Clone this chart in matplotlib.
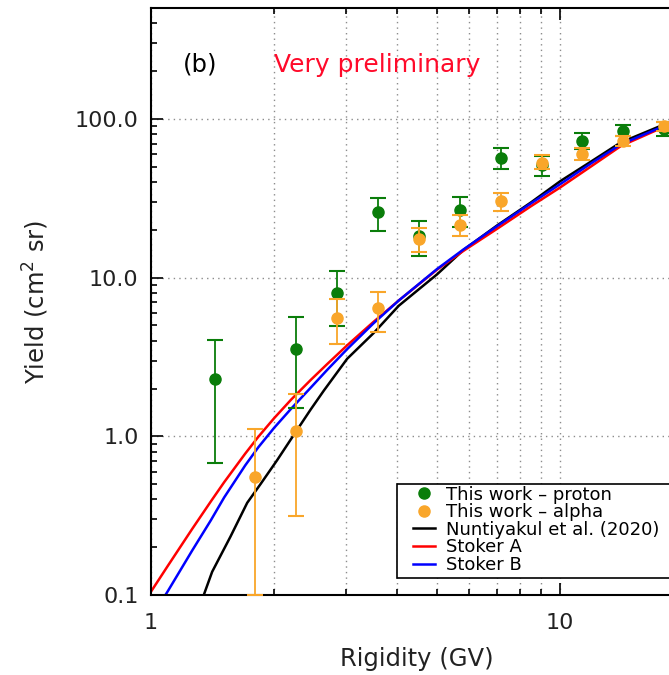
import matplotlib
matplotlib.use("Agg")
import matplotlib.pyplot as plt
from matplotlib.lines import Line2D
from matplotlib.patches import Rectangle
from matplotlib.ticker import FuncFormatter, NullFormatter
import numpy as np

# yield measured per rigidity bin (GV)
proton_x = [1.43, 2.26, 2.85, 3.59, 4.52, 5.69, 7.16, 9.02, 11.35, 14.29, 17.99]
proton_y = [2.3, 3.55, 8.0, 25.8, 18.3, 26.7, 56.5, 51.0, 72.6, 83.9, 86.0]
proton_lo = [0.68, 1.50, 4.95, 19.6, 13.6, 20.7, 48.3, 43.7, 64.8, 77.6, 78.0]
proton_hi = [4.03, 5.62, 11.0, 31.9, 22.7, 32.4, 65.3, 58.0, 81.2, 91.2, 95.0]

alpha_x = [1.80, 2.26, 2.85, 3.59, 4.52, 5.69, 7.16, 9.02, 11.35, 14.29, 17.99]
alpha_y = [0.555, 1.08, 5.6, 6.4, 17.4, 21.6, 30.4, 53.0, 60.4, 72.6, 90.2]
alpha_lo = [0.10, 0.315, 3.82, 4.54, 14.4, 18.2, 26.4, 48.1, 54.8, 67.5, 84.0]
alpha_hi = [1.107, 1.84, 7.37, 8.16, 20.4, 24.9, 34.3, 59.0, 65.3, 78.0, 96.1]

# yield functions
stoker_x = [1.0, 1.1, 1.26, 1.4, 1.51, 1.7, 1.83, 2.0, 2.2, 2.46, 2.7, 3.02, 3.5,
            4.04, 5.0, 5.8, 7.0, 8.5, 10.0, 12.0, 14.1, 17.6, 20.0]
stoker_a = [0.105, 0.153, 0.26, 0.388, 0.514, 0.778, 0.993, 1.30, 1.70, 2.27, 2.86, 3.75, 5.26,
            7.19, 11.2, 14.7, 20.2, 28.2, 36.9, 50.8, 67.5, 87.0, 100.0]
stoker_b = [0.0716, 0.106, 0.190, 0.295, 0.412, 0.656, 0.853, 1.13, 1.49, 2.03, 2.63, 3.55, 5.15,
            7.19, 11.3, 15.0, 21.0, 29.4, 38.7, 53.1, 69.2, 88.2, 101.0]

nunt_x = [1.32, 1.346, 1.411, 1.564, 1.719, 1.853, 2.035, 2.278, 2.455, 2.646, 3.018, 3.505,
          4.036, 5.01, 5.82, 7.0, 8.5, 10.03, 12.0, 14.06, 17.6, 20.0]
nunt_y = [0.088, 0.10, 0.140, 0.233, 0.381, 0.50, 0.708, 1.10, 1.47, 1.94, 3.08, 4.48,
          6.65, 10.5, 15.0, 21.2, 29.8, 40.6, 54.5, 70.9, 90.2, 103.0]

green = "#0a7d0a"
orange = "#f9a62a"

plt.rcParams["font.family"] = "DejaVu Sans"

fig = plt.figure(figsize=(6.69, 6.75), dpi=100)
ax = fig.add_axes([151 / 669, 80 / 675, 532 / 669, 587 / 675])

ax.plot(nunt_x, nunt_y, color="black", lw=1.8, zorder=2)
ax.plot(stoker_x, stoker_a, color="red", lw=1.8, zorder=2)
ax.plot(stoker_x, stoker_b, color="blue", lw=1.8, zorder=2)

py = np.array(proton_y)
ax.errorbar(proton_x, py, yerr=[py - np.array(proton_lo), np.array(proton_hi) - py],
            fmt="o", color=green, ms=8, elinewidth=1.3, capsize=5.5, capthick=1.5, zorder=3)
ay = np.array(alpha_y)
ax.errorbar(alpha_x, ay, yerr=[ay - np.array(alpha_lo), np.array(alpha_hi) - ay],
            fmt="o", color=orange, ms=8, elinewidth=1.3, capsize=5.5, capthick=1.5, zorder=4)

ax.set_xscale("log")
ax.set_yscale("log")
ax.set_xlim(1, 20)
ax.set_ylim(0.1, 500)

ax.xaxis.set_major_formatter(FuncFormatter(lambda v, p: f"{v:g}"))
ax.xaxis.set_minor_formatter(NullFormatter())
ax.yaxis.set_major_formatter(FuncFormatter(lambda v, p: f"{v:.1f}"))
ax.yaxis.set_minor_formatter(NullFormatter())

ax.xaxis.grid(True, which="both", color="#8c8c8c", ls=(0, (1, 3)), lw=1.0)
ax.yaxis.grid(True, which="major", color="#8c8c8c", ls=(0, (1, 3)), lw=1.0)

ax.tick_params(which="both", direction="in", top=True, right=True, width=1.2, labelsize=16,
               labelcolor="#222222")
ax.tick_params(which="major", length=8.5)
ax.tick_params(which="minor", length=4.3)
ax.tick_params(axis="x", pad=13)
ax.tick_params(axis="y", pad=9)
for s in ax.spines.values():
    s.set_linewidth(1.5)

ax.set_xlabel("Rigidity (GV)", fontsize=17.5, labelpad=10, color="#222222")
ax.set_ylabel(r"Yield (cm$^{\mathregular{2}}$ sr)", fontsize=17.5, labelpad=17, color="#222222")

ax.text(0.06, 0.903, "(b)", transform=ax.transAxes, fontsize=17.5, va="center")
ax.text(0.231, 0.903, "Very preliminary", transform=ax.transAxes, fontsize=18,
        va="center", color="#ff0a2a")

# legend box drawn by hand so the entries can sit tight inside it
ax.add_patch(Rectangle((0.4624, 0.029), 0.524, 0.160, transform=ax.transAxes,
                       facecolor="white", edgecolor="black", lw=1.2, zorder=6))
handles = [
    Line2D([], [], ls="none", marker="o", color=green, ms=8),
    Line2D([], [], ls="none", marker="o", color=orange, ms=8),
    Line2D([], [], color="black", lw=1.8),
    Line2D([], [], color="red", lw=1.8),
    Line2D([], [], color="blue", lw=1.8),
]
labels = ["This work \u2013 proton", "This work \u2013 alpha", "Nuntiyakul et al. (2020)",
          "Stoker A", "Stoker B"]
leg = ax.legend(handles, labels, loc="upper left", bbox_to_anchor=(0.4925, 0.1865),
                fontsize=13.0, labelspacing=-0.02, handlelength=1.2, handletextpad=0.65,
                borderpad=0, borderaxespad=0, frameon=False)
leg.set_zorder(7)

plt.savefig("out.png", dpi=100)
